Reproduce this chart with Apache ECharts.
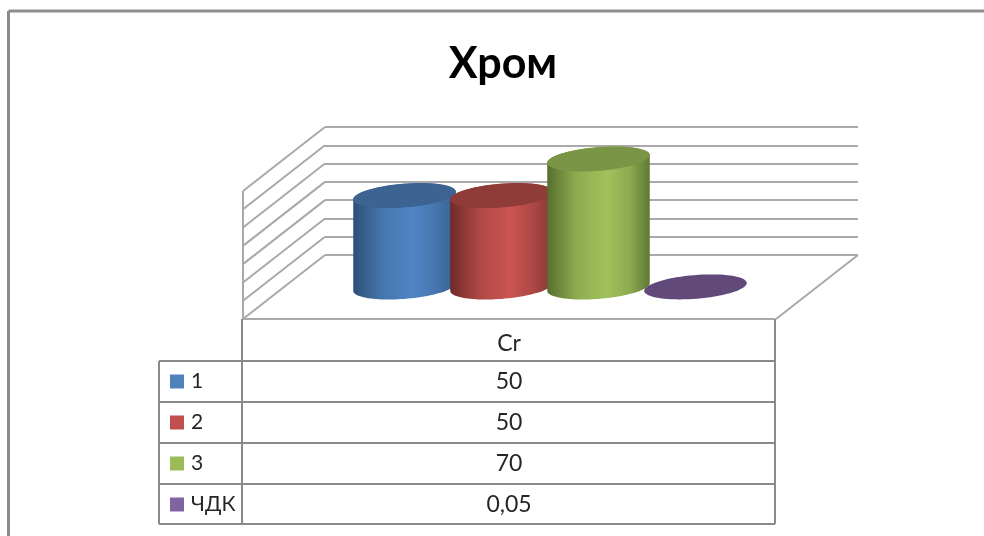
<!DOCTYPE html>
<html>
<head>
<meta charset="utf-8">
<style>html,body{margin:0;padding:0;background:#fff}#chart{width:984px;height:536px}</style>
<script src="https://cdn.jsdelivr.net/npm/echarts@6/dist/echarts.min.js"></script>
</head>
<body>
<div id="chart"></div>
<script>
// Chart content
const chartTitle = 'Хром';
const categories = ['Cr'];
const seriesNames = ['1', '2', '3', 'ЧДК'];
const seriesValues = [50, 50, 70, 0.05];
const yTicks = [0, 10, 20, 30, 40, 50, 60, 70];

// Colours per series: legend key, cylinder edge, shoulder, middle, right edge, cap
const keyColors = ['#4f81bd', '#c0504d', '#9bbb59', '#8064a2'];
const edgeColors = ['#2c5078', '#702a28', '#566f2e', '#4d3c63'];
const shoulderColors = ['#4676ad', '#ad4845', '#8dab4f', '#70588e'];
const midColors = ['#5085c6', '#cb5451', '#a2c25c', '#8064a2'];
const sideColors = ['#37608e', '#873633', '#5f7934', '#57446f'];
const capColors = ['#3c6391', '#8f3b38', '#7a9546', '#61497a'];

// Oblique projection of the plot box
const DEPTH_X = 82, DEPTH_Y = 64;
const BAR_STEP = 97, BAR_SHIFT = -0.5, RX = 48.7, SKEW_X = 16, SKEW_Y = 12.5;
const LINE = '#a9a9a9', TABLE_LINE = '#8a8a8a';
const FONT = 'Lato, "Noto Sans", sans-serif';
const TEXT = '#262626';

// A point of the tilted circle lying in the floor plane
function rimPoint(cx, cy, t) {
  return [cx + Math.cos(t) * RX + Math.sin(t) * SKEW_X, cy - Math.sin(t) * SKEW_Y];
}
function rimArc(cx, cy, from, to, steps) {
  const pts = [];
  for (let k = 0; k <= steps; k++) pts.push(rimPoint(cx, cy, from + (to - from) * k / steps));
  return pts;
}

function cylinderRenderer(index) {
  return function (params, api) {
    const base = api.coord([api.value(0), 0]);
    const top = api.coord([api.value(0), api.value(1)]);
    const cx = base[0] - DEPTH_X / 2 + BAR_SHIFT + (index - 1.5) * BAR_STEP;
    const by = base[1] + DEPTH_Y / 2;
    const ty = top[1] + DEPTH_Y / 2;
    const tangent = Math.atan2(SKEW_X, RX);
    const children = [];
    if (by - ty > 1) {
      const outline = rimArc(cx, by, tangent, tangent - Math.PI, 48)
        .concat(rimArc(cx, ty, tangent + Math.PI, tangent, 48));
      children.push({
        type: 'polygon',
        shape: { points: outline },
        style: {
          fill: {
            type: 'linear', x: 0, y: 0, x2: 1, y2: 0,
            colorStops: [
              { offset: 0, color: edgeColors[index] },
              { offset: 0.28, color: shoulderColors[index] },
              { offset: 0.58, color: midColors[index] },
              { offset: 0.8, color: shoulderColors[index] },
              { offset: 1, color: sideColors[index] }
            ]
          }
        }
      });
    }
    children.push({
      type: 'polygon',
      shape: { points: rimArc(cx, ty, 0, Math.PI * 2, 72) },
      style: { fill: capColors[index] }
    });
    return { type: 'group', children };
  };
}

// Side wall grid lines and the floor outline
function wallRenderer(params, api) {
  const p = api.coord([0, api.value(1)]);
  const rect = params.coordSys;
  const x0 = rect.x, y = p[1];
  const lineStyle = { stroke: LINE, lineWidth: 2, fill: 'none' };
  const children = [{
    type: 'line',
    shape: { x1: x0, y1: y, x2: x0 - DEPTH_X, y2: y + DEPTH_Y },
    style: lineStyle
  }];
  if (api.value(1) === 0) {
    const x1 = x0 + rect.width;
    children.push({
      type: 'line',
      shape: { x1: x1, y1: y, x2: x1 - DEPTH_X, y2: y + DEPTH_Y },
      style: lineStyle
    });
  }
  if (api.value(1) === yTicks[yTicks.length - 1]) {
    children.push({
      type: 'line',
      shape: { x1: x0 - DEPTH_X, y1: y + DEPTH_Y, x2: x0 - DEPTH_X, y2: rect.y + rect.height + DEPTH_Y },
      style: lineStyle
    });
  }
  return { type: 'group', children };
}

// Data table below the floor
const tableLeft = 159, tableKey = 242, tableRight = 775;
const headTop = 319, rowTops = [361, 402, 443, 484, 524];
const valueX = 509;

function tableLine(x1, y1, x2, y2, stroke) {
  return {
    type: 'line', silent: true, z: 5,
    shape: { x1, y1, x2, y2 },
    style: { stroke: stroke || TABLE_LINE, lineWidth: 2 }
  };
}
function tableText(text, y) {
  return {
    type: 'text', silent: true, z: 6, x: valueX, y,
    style: { text, fill: TEXT, font: '23px ' + FONT, align: 'center', verticalAlign: 'middle' }
  };
}

const graphics = [
  // Chart frame, open towards the right
  { type: 'line', silent: true, shape: { x1: 8.5, y1: 11, x2: 984, y2: 11 }, style: { stroke: '#8c8c8c', lineWidth: 3 } },
  { type: 'line', silent: true, shape: { x1: 8.5, y1: 11, x2: 8.5, y2: 536 }, style: { stroke: '#8c8c8c', lineWidth: 3 } },
  tableLine(tableKey, headTop, tableRight, headTop, LINE),
  tableLine(tableKey, headTop, tableKey, rowTops[rowTops.length - 1]),
  tableLine(tableRight, headTop, tableRight, rowTops[rowTops.length - 1]),
  tableLine(tableLeft, rowTops[0], tableLeft, rowTops[rowTops.length - 1]),
  tableText(categories[0], 344)
];
rowTops.forEach(y => graphics.push(tableLine(tableLeft, y, tableRight, y)));
seriesValues.forEach((v, i) => {
  graphics.push(tableText(String(v).replace('.', ','), (rowTops[i] + rowTops[i + 1]) / 2 + (i === 3 ? 1 : 0)));
});

const series = [{
  type: 'custom',
  name: 'wall',
  silent: true,
  z: 1,
  encode: { x: 0, y: 1 },
  data: yTicks.map(t => [0, t]),
  renderItem: wallRenderer
}];
seriesNames.forEach((name, i) => {
  series.push({
    type: 'custom',
    name,
    z: 2 + i,
    encode: { x: 0, y: 1 },
    itemStyle: { color: keyColors[i] },
    data: [[0, seriesValues[i]]],
    renderItem: cylinderRenderer(i)
  });
});

const chart = echarts.init(document.getElementById('chart'));
chart.setOption({
  animation: false,
  backgroundColor: '#ffffff',
  title: {
    text: chartTitle,
    left: 498,
    textAlign: 'center',
    top: 38,
    textStyle: { fontFamily: FONT, fontWeight: 'bold', fontSize: 43, color: '#000000' }
  },
  legend: {
    data: seriesNames,
    orient: 'vertical',
    left: 170,
    top: 371,
    padding: 0,
    icon: 'rect',
    itemWidth: 14,
    itemHeight: 14,
    itemGap: 20,
    selectedMode: false,
    textStyle: { fontFamily: FONT, fontSize: 21, color: TEXT, lineHeight: 20, padding: [0, 0, 0, 2] }
  },
  grid: { left: 325, right: 126, top: 127, height: 128 },
  xAxis: {
    type: 'category',
    data: categories,
    axisLine: { show: false },
    axisTick: { show: false },
    axisLabel: { show: false }
  },
  yAxis: {
    type: 'value',
    min: 0,
    max: 70,
    interval: 10,
    axisLine: { show: false },
    axisTick: { show: false },
    axisLabel: { show: false },
    splitLine: { show: true, lineStyle: { color: LINE, width: 2 } }
  },
  series,
  graphic: graphics
});
</script>
</body>
</html>
